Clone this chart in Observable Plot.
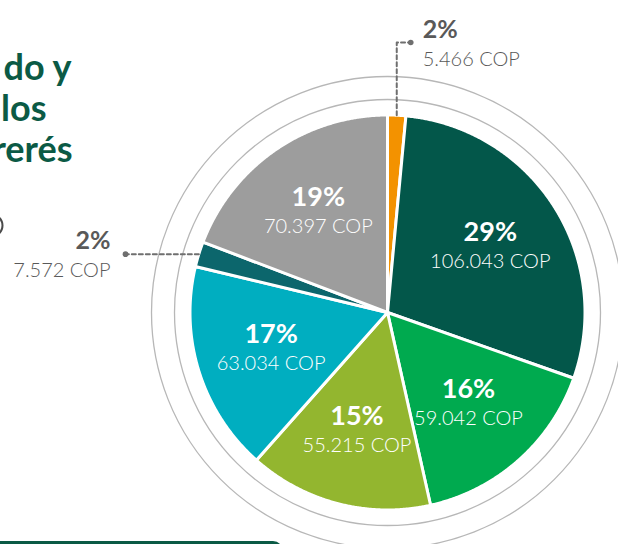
<!DOCTYPE html>
<html><head><meta charset="utf-8">
<script src="https://cdn.jsdelivr.net/npm/d3@7"></script>
<script src="https://cdn.jsdelivr.net/npm/@observablehq/plot@0.6"></script>
<style>
html,body{margin:0;padding:0;background:#fff;overflow:hidden;}
#chart{width:618px;height:544px;overflow:hidden;position:relative;}
#chart svg{overflow:hidden;display:block;}
</style></head><body><div id="chart"></div>
<script>
// ---- data ----
const sliceKeys = ["naranja", "verde oscuro", "verde", "oliva", "turquesa", "petróleo", "gris"];
const values = [5466, 106043, 59042, 55215, 63034, 7572, 70397];
const percentLabels = ["2%", "29%", "16%", "15%", "17%", "2%", "19%"];
const currency = "COP";
const titleLines = ["do y", "los", "rerés"];

// ---- styles ----
const palette = ["#f39200", "#03574a", "#00aa4f", "#93b62f", "#00aec0", "#0c666c", "#9d9d9d"];
const titleColor = "#0b5a45";
const grayText = "#595959";

// ---- layout ----
const W = 618, H = 544;
const cx = 387, cy = 312, R = 197.5;
const rings = [213, 236];
const labelR = 122;

const total = d3.sum(values);
const arcs = d3.pie().sort(null).value(d => d)(values);
const pt = (a, r) => ({x: cx + r * Math.sin(a), y: cy - r * Math.cos(a)});

const slicePts = arcs.flatMap((a, i) => {
  const n = Math.max(2, Math.ceil((a.endAngle - a.startAngle) / 0.005));
  const pts = [{...pt(0, 0), k: sliceKeys[i]}];
  for (let j = 0; j <= n; j++) pts.push({...pt(a.startAngle + (a.endAngle - a.startAngle) * j / n, R), k: sliceKeys[i]});
  pts.push({...pt(0, 0), k: sliceKeys[i]});
  return pts;
});

const fmt = d3.formatLocale({decimal: ",", thousands: ".", grouping: [3], currency: ["", ""]}).format(",d");
const labels = arcs.map((a, i) => ({
  i, share: values[i] / total, mid: (a.startAngle + a.endAngle) / 2,
  pct: percentLabels[i], val: `${fmt(values[i])} ${currency}`
}));
const inner = labels.filter(d => d.share >= 0.03).map(d => ({...d, ...pt(d.mid, labelR)}));

// external labels with leader lines
const leaderLines = [];
const leaderDots = [];
const outerRight = [];
const outerLeft = [];
labels.filter(d => d.share < 0.03).forEach(d => {
  const e = pt(d.mid, R);
  if (d.mid < Math.PI) {
    const ay = 42, ax = e.x + 14;
    leaderLines.push({id: d.i, x: e.x, y: e.y}, {id: d.i, x: e.x, y: ay}, {id: d.i, x: ax, y: ay});
    leaderDots.push({x: ax, y: ay});
    outerRight.push({...d, x: ax + 12, y: ay});
  } else {
    const ax = 125, ay = e.y;
    leaderLines.push({id: d.i, x: e.x, y: e.y}, {id: d.i, x: ax, y: ay});
    leaderDots.push({x: ax, y: ay});
    outerLeft.push({...d, x: ax - 15, y: ay});
  }
});

const titleData = titleLines.map((t, i) => ({t, i}));

const outerText = (data, anchor) => [
  Plot.text(data, {x: "x", y: d => d.y - 5, text: "pct", textAnchor: anchor, fill: grayText, fontSize: 25, fontWeight: 700, fontFamily: "Lato", lineAnchor: "bottom"}),
  Plot.text(data, {x: "x", y: d => d.y + 23, text: "val", textAnchor: anchor, fill: grayText, fontSize: 20, fontWeight: 300, fontFamily: "Lato", lineAnchor: "bottom", letterSpacing: "-0.6px"})
];

const chart = Plot.plot({
  width: W, height: H,
  margin: 0,
  x: {domain: [0, W], range: [0, W], axis: null},
  y: {domain: [0, H], range: [0, H], axis: null},
  r: {type: "identity"},
  color: {domain: sliceKeys, range: palette},
  style: {background: "#fff", overflow: "hidden"},
  marks: [
    // decorative rings
    Plot.dot(rings, {x: () => cx, y: () => cy, r: d => d, stroke: "#b7b7b7", strokeWidth: 1.3, fill: "none"}),
    // pie slices
    Plot.line(slicePts, {x: "x", y: "y", z: "k", fill: "k", stroke: "white", strokeWidth: 3, strokeLinejoin: "round"}),
    // inner labels
    Plot.text(inner, {x: "x", y: d => d.y - 6, text: "pct", fill: "white", fontSize: 27, fontWeight: 700, fontFamily: "Lato", lineAnchor: "bottom"}),
    Plot.text(inner, {x: "x", y: d => d.y + 21, text: "val", fill: "white", fontSize: 20, fontWeight: 300, fontFamily: "Lato", lineAnchor: "bottom", letterSpacing: "-0.7px"}),
    // leader lines
    Plot.line(leaderLines, {x: "x", y: "y", z: "id", stroke: "#6f6f6f", strokeWidth: 2, strokeDasharray: "4,3"}),
    Plot.dot(leaderDots, {x: "x", y: "y", r: 2.8, fill: "#6f6f6f"}),
    // outer labels
    ...outerText(outerRight, "start"),
    ...outerText(outerLeft, "end"),
    // cropped title
    Plot.text(titleData, {x: d => [71, 46, 72][d.i], y: d => 79 + d.i * 41, text: "t", textAnchor: "end", lineAnchor: "bottom", fill: titleColor, fontSize: 36, fontWeight: 700, fontFamily: "Lato", letterSpacing: "1.5px"}),
    // cropped decorations at the left edge and bottom
    Plot.dot([0], {x: () => -9, y: () => 225, r: 11, stroke: "#4a4a4a", strokeWidth: 2, fill: "none"}),
    Plot.rect([0], {x1: () => -20, x2: () => 283, y1: () => 541, y2: () => 600, rx: 10, fill: titleColor})
  ]
});
document.getElementById("chart").append(chart);
</script></body></html>
